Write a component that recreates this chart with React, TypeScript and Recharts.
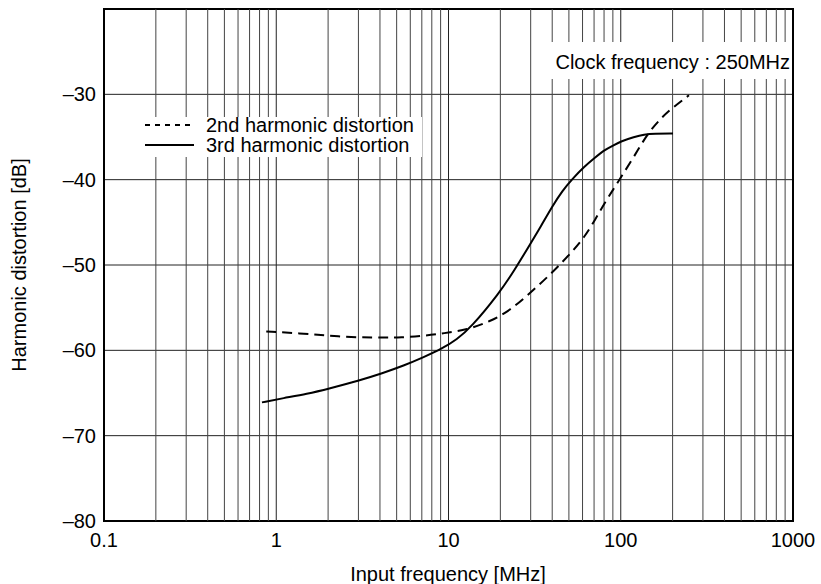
import React from 'react';
import {
  LineChart, Line, XAxis, YAxis, CartesianGrid, ReferenceLine, ReferenceArea, Label,
} from 'recharts';

// 3rd harmonic distortion (solid)
const thirdFreq = [0.826, 1.1, 1.51, 2.01, 3.08, 4.11, 5.5, 7.19, 9.2, 11.2, 13.4, 19.7, 24.0, 29.7, 34.3, 40.1, 45.8, 52.4, 61.2, 71.0, 80.7, 90.2, 100.4, 119.5, 136.7, 156, 201];
const thirdDb = [-66.1, -65.6, -65.1, -64.5, -63.5, -62.7, -61.8, -60.8, -59.8, -58.7, -57.4, -53.3, -50.7, -47.6, -45.5, -43.1, -41.3, -39.9, -38.5, -37.4, -36.5, -36.0, -35.5, -35.0, -34.7, -34.6, -34.6];

// 2nd harmonic distortion (dashed)
const secondFreq = [0.875, 1.38, 2.01, 3.08, 4.2, 5.26, 7.19, 9.4, 12.8, 17.5, 22.5, 29.7, 40.1, 52.4, 61.2, 71.0, 80.7, 90.2, 100.4, 119.5, 143, 171, 199, 249];
const secondDb = [-57.8, -58.0, -58.3, -58.5, -58.5, -58.5, -58.3, -58.0, -57.6, -56.6, -55.4, -53.3, -50.9, -48.4, -46.8, -44.7, -42.7, -41.2, -39.7, -37.3, -34.6, -32.8, -31.6, -30.1];

const xTicks = [0.1, 1, 10, 100, 1000];
const yTicks = [-80, -70, -60, -50, -40, -30];
const decades = [0.1, 1, 10, 100];
const minorSteps = [2, 3, 4, 5, 6, 7, 8, 9];

const minorGrid = decades.flatMap((d) => minorSteps.map((m) => +(d * m).toPrecision(3)));

const thirdData = thirdFreq.map((f, i) => ({ f, v: thirdDb[i] }));
const secondData = secondFreq.map((f, i) => ({ f, v: secondDb[i] }));

const FONT = '"Liberation Sans", Arial, Helvetica, sans-serif';
const FS = 20;

export default function App() {
  return (
    <div style={{ position: 'absolute', left: 0, top: 0, width: 821, height: 584, background: '#fff', fontFamily: FONT }}>
      <LineChart width={821} height={584} margin={{ top: 9, right: 28, left: 0, bottom: 0 }}>
        <CartesianGrid vertical={false} stroke="#222" strokeWidth={1} />
        {minorGrid.map((v) => (
          <ReferenceLine key={`mn-${v}`} x={v} stroke="#444" strokeWidth={1} />
        ))}
        {xTicks.slice(1, -1).map((v) => (
          <ReferenceLine key={`mj-${v}`} x={v} stroke="#222" strokeWidth={1} />
        ))}
        <XAxis
          dataKey="f"
          type="number"
          scale="log"
          domain={[0.1, 1000]}
          ticks={xTicks}
          allowDataOverflow
          axisLine={false}
          tickLine={false}
          tickSize={0}
          tickMargin={12}
          height={63}
          tick={{ fill: '#000', fontSize: FS, fontFamily: FONT }}
          tickFormatter={(v: number) => String(v)}
        >
          <Label
            content={() => (
              <text x={448} y={581} textAnchor="middle" fill="#000" fontSize={FS} fontFamily={FONT}>
                Input frequency [MHz]
              </text>
            )}
          />
        </XAxis>
        <YAxis
          type="number"
          domain={[-80, -20]}
          ticks={yTicks}
          allowDataOverflow
          axisLine={false}
          tickLine={false}
          tickSize={0}
          tickMargin={8}
          width={104}
          tick={{ fill: '#000', fontSize: FS, fontFamily: FONT }}
          tickFormatter={(v: number) => String(v).replace('-', '\u2013')}
        >
          <Label
            content={() => (
              <text
                x={26}
                y={265}
                transform="rotate(-90 26 265)"
                textAnchor="middle"
                fill="#000"
                fontSize={FS}
                fontFamily={FONT}
              >
                Harmonic distortion [dB]
              </text>
            )}
          />
        </YAxis>
        <Line
          data={secondData}
          dataKey="v"
          type="basis"
          stroke="#000"
          strokeWidth={2}
          strokeDasharray="10 6"
          dot={false}
          isAnimationActive={false}
        />
        <Line
          data={thirdData}
          dataKey="v"
          type="basis"
          stroke="#000"
          strokeWidth={2}
          dot={false}
          isAnimationActive={false}
        />
        <ReferenceArea x1={0.1} x2={1000} y1={-80} y2={-20} fill="none" stroke="#000" strokeWidth={2} ifOverflow="visible" />
      </LineChart>

      <svg
        width={821}
        height={584}
        style={{ position: 'absolute', left: 0, top: 0, pointerEvents: 'none' }}
      >
        {/* legend */}
        <rect x={140} y={117} width={282} height={40} fill="#fff" />
        <line x1={145} y1={125} x2={194} y2={125} stroke="#000" strokeWidth={2} strokeDasharray="5 5" />
        <line x1={145} y1={145} x2={194} y2={145} stroke="#000" strokeWidth={2} />
        <text x={206} y={132} fontSize={FS} fontFamily={FONT} fill="#000">2nd harmonic distortion</text>
        <text x={206} y={152} fontSize={FS} fontFamily={FONT} fill="#000">3rd harmonic distortion</text>
        {/* clock note */}
        <rect x={549} y={42} width={243} height={37} fill="#fff" />
        <text x={790} y={69} textAnchor="end" fontSize={FS} fontFamily={FONT} fill="#000">
          Clock frequency : 250MHz
        </text>
      </svg>
    </div>
  );
}
